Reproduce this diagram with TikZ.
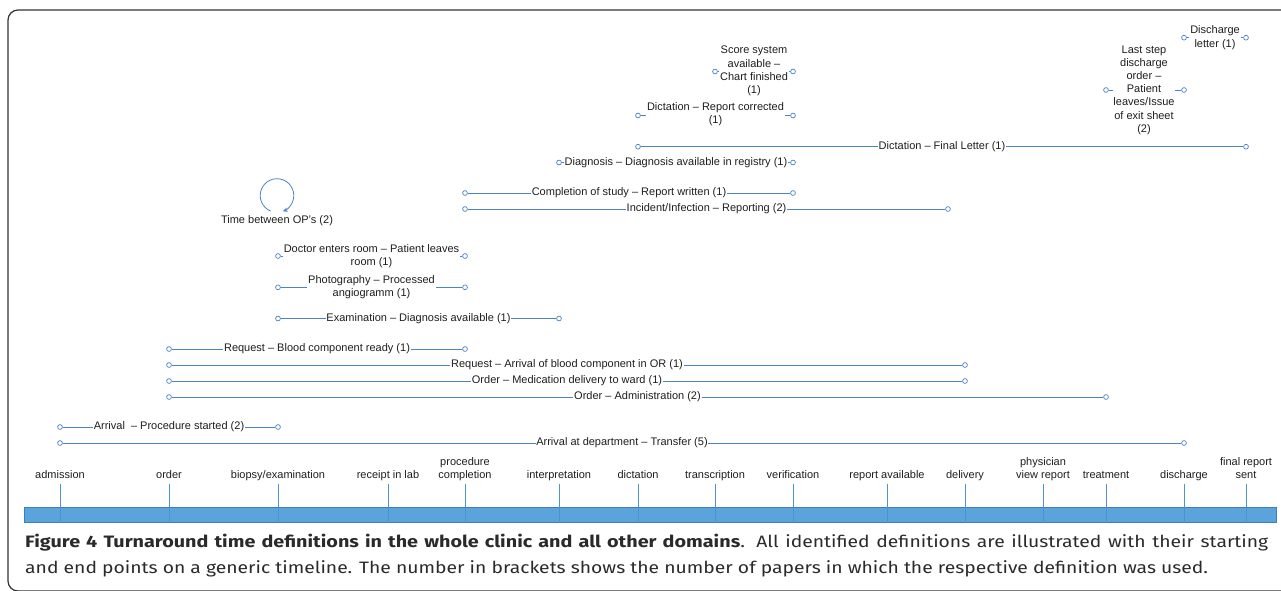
\documentclass[tikz,border=0pt]{standalone}
\usepackage{fontspec}
\setmainfont{Liberation Sans}
\newfontfamily\capfont[FakeStretch=1.17]{Fira Sans}
\newfontfamily\capboldfont[FakeStretch=1.2]{Fira Sans}
\usetikzlibrary{arrows.meta}
\definecolor{lblue}{HTML}{4A84C6}
\definecolor{barfill}{HTML}{5BA4DB}
\definecolor{barline}{HTML}{3B7FC0}
\definecolor{tickc}{HTML}{4F92D3}
\definecolor{captxt}{HTML}{2A2A2A}
\definecolor{lbltxt}{HTML}{1E1E1E}
\begin{document}
\begin{tikzpicture}[x=1pt,y=-1pt,
  endpt/.style={circle,draw=lblue,fill=white,line width=0.7pt,inner sep=0pt,minimum size=4.8pt},
  deflbl/.style={font=\fontsize{11}{13.2}\selectfont,align=center,inner sep=0.6pt,text=lbltxt},
  conn/.style={draw=lblue,line width=0.8pt},
  ticklbl/.style={font=\fontsize{11}{13.2}\selectfont,align=center,inner sep=0pt,anchor=south,text=lbltxt},
  tickln/.style={draw=tickc,line width=0.9pt},
  captext/.style={inner sep=0pt,anchor=base west,font=\capfont\fontsize{16.5}{26}\selectfont,text=captxt}]
\useasboundingbox (0,0) rectangle (1281,590);
\draw[line width=1.2pt,draw=black!80,rounded corners=10pt] (8,10) rectangle (1300,591);

% timeline bar
\node[rectangle,draw=barline,fill=barfill,line width=0.8pt,minimum width=1252pt,minimum height=15pt,inner sep=0pt,anchor=north west] (bar) at (24,507) {};

% timeline labels
\node[ticklbl] (t1) at (60,483) {admission\strut};
\node[ticklbl] (t2) at (169,483) {order\strut};
\node[ticklbl] (t3) at (278,483) {biopsy/examination\strut};
\node[ticklbl] (t4) at (388,483) {receipt in lab\strut};
\node[ticklbl] (t5) at (465,483) {procedure\\completion\strut};
\node[ticklbl] (t6) at (559,483) {interpretation\strut};
\node[ticklbl] (t7) at (638,483) {dictation\strut};
\node[ticklbl] (t8) at (715,483) {transcription\strut};
\node[ticklbl] (t9) at (793,483) {verification\strut};
\node[ticklbl] (t10) at (887,483) {report available\strut};
\node[ticklbl] (t11) at (965,483) {delivery\strut};
\node[ticklbl] (t12) at (1043,483) {physician\\view report\strut};
\node[ticklbl] (t13) at (1106,483) {treatment\strut};
\node[ticklbl] (t14) at (1184,483) {discharge\strut};
\node[ticklbl] (t15) at (1246,483) {final report\\sent\strut};
\foreach \i in {1,...,15}{
  \draw[tickln] ([yshift=-1pt]t\i.south) -- (t\i.south |- bar.south);
}

% definitions
\node[endpt] (a1) at (60,443) {};
\node[endpt] (b1) at (1184,443) {};
\node[deflbl] (l1) at (622,443) {Arrival at department -- Transfer (5)};
\draw[conn] (a1) -- (l1) -- (b1);

\node[endpt] (a2) at (60,427) {};
\node[endpt] (b2) at (278,427) {};
\node[deflbl] (l2) at (169,427) {Arrival\ \ -- Procedure started (2)};
\draw[conn] (a2) -- (l2) -- (b2);

\node[endpt] (a3) at (169,397) {};
\node[endpt] (b3) at (1106,397) {};
\node[deflbl] (l3) at (637.5,397) {Order -- Administration (2)};
\draw[conn] (a3) -- (l3) -- (b3);

\node[endpt] (a4) at (169,381) {};
\node[endpt] (b4) at (965,381) {};
\node[deflbl] (l4) at (567,381) {Order -- Medication delivery to ward (1)};
\draw[conn] (a4) -- (l4) -- (b4);

\node[endpt] (a5) at (169,365) {};
\node[endpt] (b5) at (965,365) {};
\node[deflbl] (l5) at (567,365) {Request -- Arrival of blood component in OR (1)};
\draw[conn] (a5) -- (l5) -- (b5);

\node[endpt] (a6) at (169,349) {};
\node[endpt] (b6) at (465,349) {};
\node[deflbl] (l6) at (317,349) {Request -- Blood component ready (1)};
\draw[conn] (a6) -- (l6) -- (b6);

\node[endpt] (a7) at (278,318.5) {};
\node[endpt] (b7) at (559,318.5) {};
\node[deflbl] (l7) at (418.5,318.5) {Examination -- Diagnosis available (1)};
\draw[conn] (a7) -- (l7) -- (b7);

\node[endpt] (a8) at (278,287.3) {};
\node[endpt] (b8) at (465,287.3) {};
\node[deflbl] (l8) at (371.5,287.3) {Photography -- Processed\\angiogramm (1)};
\draw[conn] (a8) -- (l8) -- (b8);

\node[endpt] (a9) at (278,256) {};
\node[endpt] (b9) at (465,256) {};
\node[deflbl] (l9) at (371.5,256) {Doctor enters room -- Patient leaves\\room (1)};
\draw[conn] (a9) -- (l9) -- (b9);

% loop
\node[deflbl] (l10) at (277,221) {Time between OP's (2)};
\coordinate (c10) at (277,195.5);
\draw[conn,-{Stealth[length=5pt,width=4.5pt]}] ([shift={(112:16.8)}]c10) arc[start angle=112,end angle=430,radius=16.8];

\node[endpt] (a11) at (465,209) {};
\node[endpt] (b11) at (948,209) {};
\node[deflbl] (l11) at (706.5,209) {Incident/Infection -- Reporting (2)};
\draw[conn] (a11) -- (l11) -- (b11);

\node[endpt] (a12) at (465,193) {};
\node[endpt] (b12) at (793,193) {};
\node[deflbl] (l12) at (629,193) {Completion of study -- Report written (1)};
\draw[conn] (a12) -- (l12) -- (b12);

\node[endpt] (a13) at (559,162.5) {};
\node[endpt] (b13) at (793,162.5) {};
\node[deflbl] (l13) at (676,162.5) {Diagnosis -- Diagnosis available in registry (1)};
\draw[conn] (a13) -- (l13) -- (b13);

\node[endpt] (a14) at (638,146.7) {};
\node[endpt] (b14) at (1246,146.7) {};
\node[deflbl] (l14) at (942,146.7) {Dictation -- Final Letter (1)};
\draw[conn] (a14) -- (l14) -- (b14);

\node[endpt] (a15) at (638,115.5) {};
\node[endpt] (b15) at (793,115.5) {};
\node[deflbl] (l15) at (715.5,114.5) {Dictation -- Report corrected\\(1)};
\draw[conn] (a15) -- (a15 -| l15.west);
\draw[conn] (b15 -| l15.east) -- (b15);

\node[endpt] (a16) at (715,71.5) {};
\node[endpt] (b16) at (793,71.5) {};
\node[deflbl] (l16) at (754,71) {Score system\\available --\\Chart finished\\(1)};
\draw[conn] (a16) -- (a16 -| l16.west);
\draw[conn] (b16 -| l16.east) -- (b16);

\node[endpt] (a17) at (1106,90) {};
\node[endpt] (b17) at (1184,90) {};
\node[deflbl] (l17) at (1144,90) {Last step\\discharge\\order --\\Patient\\leaves/Issue\\of exit sheet\\(2)};
\draw[conn] (a17) -- (a17 -| l17.west);
\draw[conn] (b17 -| l17.east) -- (b17);

\node[endpt] (a18) at (1184,37.7) {};
\node[endpt] (b18) at (1246,37.7) {};
\node[deflbl] (l18) at (1215,37.7) {Discharge\\letter (1)};
\draw[conn] (a18) -- (a18 -| l18.west);
\draw[conn] (b18 -| l18.east) -- (b18);

% caption
\node[captext] (cap1) at (25,547) {\makebox[1243pt][s]{{\capboldfont\bfseries Figure 4 Turnaround time definitions in the whole clinic and all other domains}. All identified definitions are illustrated with their starting}};
\node[captext] (cap2) at (25,573) {and end points on a generic timeline. The number in brackets shows the number of papers in which the respective definition was used.};
\end{tikzpicture}
\end{document}
